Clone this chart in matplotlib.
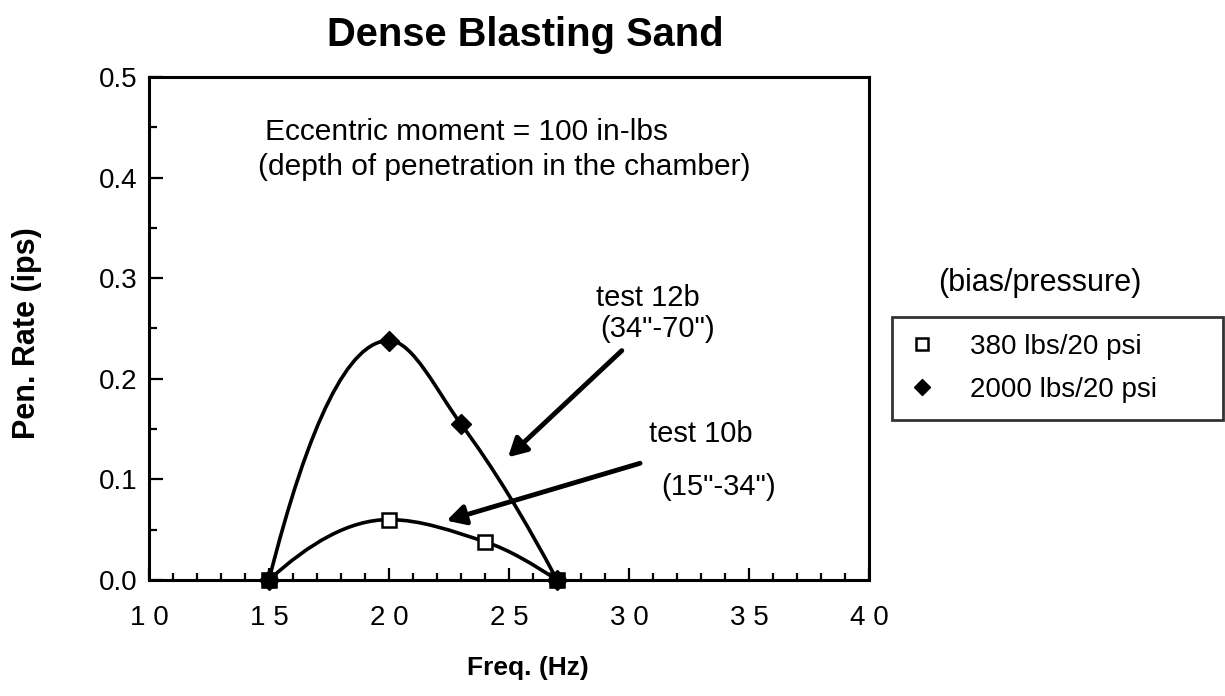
import numpy as np
import matplotlib
matplotlib.use('Agg')
import matplotlib.pyplot as plt
from matplotlib.path import Path
from matplotlib.patches import PathPatch
from matplotlib.ticker import MultipleLocator, FormatStrFormatter

plt.rcParams['font.family'] = ['Liberation Sans', 'DejaVu Sans']

# penetration rate vs frequency, two bias loads at 20 psi
freq_380 = [15, 20, 24, 27]
rate_380 = [0.0, 0.060, 0.038, 0.0]
freq_2000 = [15, 20, 23, 27]
rate_2000 = [0.0, 0.238, 0.155, 0.0]

label_380 = '380 lbs/20 psi'
label_2000 = '2000 lbs/20 psi'
xticks = [10, 15, 20, 25, 30, 35, 40]
yticks = [0.0, 0.1, 0.2, 0.3, 0.4, 0.5]


def pchip_slopes(x, y):
    # shape preserving slopes (Fritsch-Carlson) for the smooth curve
    h = np.diff(x)
    d = np.diff(y) / h
    m = np.zeros_like(y)
    for k in range(1, len(x) - 1):
        if d[k - 1] * d[k] > 0:
            w1 = 2 * h[k] + h[k - 1]
            w2 = h[k] + 2 * h[k - 1]
            m[k] = (w1 + w2) / (w1 / d[k - 1] + w2 / d[k])

    def end(h0, h1, d0, d1):
        s = ((2 * h0 + h1) * d0 - h0 * d1) / (h0 + h1)
        if np.sign(s) != np.sign(d0):
            s = 0.0
        elif np.sign(d0) != np.sign(d1) and abs(s) > abs(3 * d0):
            s = 3 * d0
        return s

    m[0] = end(h[0], h[1], d[0], d[1])
    m[-1] = end(h[-1], h[-2], d[-1], d[-2])
    return m


def smooth_path(x, y):
    x = np.asarray(x, float)
    y = np.asarray(y, float)
    m = pchip_slopes(x, y)
    verts = [(x[0], y[0])]
    codes = [Path.MOVETO]
    for i in range(len(x) - 1):
        h = x[i + 1] - x[i]
        verts += [(x[i] + h / 3, y[i] + m[i] * h / 3),
                  (x[i + 1] - h / 3, y[i + 1] - m[i + 1] * h / 3),
                  (x[i + 1], y[i + 1])]
        codes += [Path.CURVE4] * 3
    return Path(verts, codes)


fig = plt.figure(figsize=(12.25, 6.96), dpi=100)
ax = fig.add_axes([0.1216, 0.1667, 0.5878, 0.7227])

for fx, ry in [(freq_380, rate_380), (freq_2000, rate_2000)]:
    ax.add_patch(PathPatch(smooth_path(fx, ry), fill=False, lw=2.6,
                           edgecolor='black', transform=ax.transData))

ax.plot(freq_2000, rate_2000, 'D', ms=10, color='black', clip_on=False,
        zorder=4, label=label_2000)
ax.plot(freq_380, rate_380, 's', ms=10, mfc='white', mec='black', mew=1.8,
        clip_on=False, zorder=5, label=label_380)
# the end points are shared by both runs
ax.plot([freq_380[0], freq_380[-1]], [rate_380[0], rate_380[-1]], 's', ms=10,
        color='black', clip_on=False, zorder=6)

ax.set_xlim(10, 40)
ax.set_ylim(0, 0.5)
ax.set_xticks(xticks)
ax.set_xticklabels([' '.join(str(v)) for v in xticks])
ax.xaxis.set_minor_locator(MultipleLocator(1))
ax.set_yticks(yticks)
ax.yaxis.set_major_formatter(FormatStrFormatter('%.1f'))
ax.yaxis.set_minor_locator(MultipleLocator(0.05))
ax.tick_params(axis='both', which='both', direction='in', top=False,
               right=False, width=1.6, labelsize=20)
ax.tick_params(axis='x', which='major', length=9, pad=18)
ax.tick_params(axis='x', which='minor', length=5)
ax.tick_params(axis='y', which='major', length=10, pad=8)
ax.tick_params(axis='y', which='minor', length=6)
for sp in ax.spines.values():
    sp.set_linewidth(2.2)

ax.text(14.83, 0.4455, 'Eccentric moment = 100 in-lbs', fontsize=21.5,
        va='center', ha='left')
ax.text(14.54, 0.411, '(depth of penetration in the chamber)', fontsize=21.5,
        va='center', ha='left')
ax.text(30.8, 0.280, 'test 12b', fontsize=21, ha='center', va='center')
ax.text(31.2, 0.2495, '(34"-70")', fontsize=21, ha='center', va='center')
ax.text(33.0, 0.1455, 'test 10b', fontsize=21, ha='center', va='center')
ax.text(33.75, 0.092, '(15"-34")', fontsize=21, ha='center', va='center')

arrow = dict(arrowstyle='-|>,head_length=1.1,head_width=0.6', lw=3.5,
             color='black', shrinkA=0, shrinkB=0)
ax.annotate('', xy=(24.96, 0.122), xytext=(29.7, 0.228), arrowprops=arrow)
ax.annotate('', xy=(22.4, 0.059), xytext=(30.46, 0.116), arrowprops=arrow)

fig.text(0.429, 0.950, 'Dense Blasting Sand', fontsize=28.7, fontweight='bold',
         ha='center', va='center')
fig.text(0.431, 0.040, 'Freq. (Hz)', fontsize=19, fontweight='bold',
         ha='center', va='center')
fig.text(0.022, 0.522, 'Pen. Rate (ips)', fontsize=22, fontweight='bold',
         rotation=90, ha='center', va='center')
fig.text(0.849, 0.593, '(bias/pressure)', fontsize=22, ha='center',
         va='center')

handles, labels = ax.get_legend_handles_labels()
leg = fig.legend(handles[::-1], labels[::-1], loc='upper left',
                 bbox_to_anchor=(0.728, 0.4009, 0.270, 0.1436), mode='expand',
                 fontsize=20, frameon=True, fancybox=False, borderpad=0.6,
                 labelspacing=0.63, handletextpad=1.2, handlelength=1.0,
                 borderaxespad=0)
leg.get_frame().set_edgecolor('black')
leg.get_frame().set_linewidth(2.0)
for h in leg.legend_handles:
    h.set_markersize(8)

fig.savefig('out.png', dpi=100)
